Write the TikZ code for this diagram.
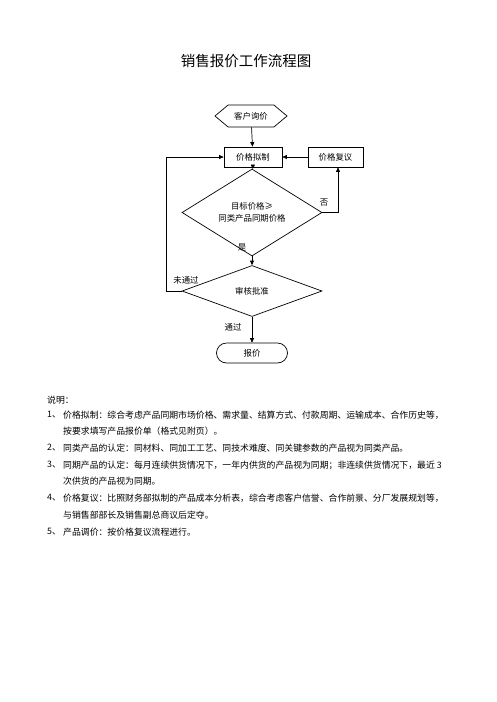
\documentclass[tikz,border=0pt]{standalone}
\usepackage{fontspec}
\setmainfont{Noto Sans CJK SC}
\usetikzlibrary{shapes.geometric,shapes.symbols,arrows.meta}
\tikzset{
  flow/.style={draw=black, line width=0.7pt, font=\fontsize{8.4}{10}\selectfont, inner sep=0pt},
  procbox/.style={flow, rectangle, minimum width=58pt, minimum height=20pt},
  hexbox/.style={flow, signal, signal to=west and east, signal pointer angle=80, minimum width=72pt, minimum height=22pt},
  decide/.style={flow, diamond, minimum width=140pt, minimum height=51pt},
  termbox/.style={flow, rectangle, rounded corners=10pt, minimum width=71pt, minimum height=20pt},
  conn/.style={draw=black, line width=0.7pt, -{Triangle[length=4.5pt,width=4pt]}},
  lbl/.style={font=\fontsize{8.4}{10}\selectfont, inner sep=0pt},
  note/.style={font=\fontsize{8.85}{10}\selectfont, inner sep=0pt, anchor=west},
}
\begin{document}
\begin{tikzpicture}[x=1pt,y=-1pt]
\useasboundingbox[fill=white] (0,0) rectangle (496,702);
\node[inner sep=0pt, font=\fontsize{14.5}{16}\selectfont] (title) at (246,61) {销售报价工作流程图};

\node[hexbox] (ask) at (251,116) {客户询价};
\node[procbox] (draft) at (253,157) {价格拟制};
\node[procbox, minimum width=55pt] (review) at (335.5,157) {价格复议};
\node[decide, align=center] (cmp) at (252,212.5) {目标价格≥\\[2pt]同类产品同期价格};
\node[decide] (approve) at (252,291) {审核批准};
\node[termbox] (quote) at (252,353) {报价};

\coordinate (loopb) at (166,291);
\coordinate (loopt) at (166,157);
\coordinate (noc) at (338,212.5);

\draw[conn] (ask) -- (draft);
\draw[conn] (draft) -- (cmp);
\draw[conn] (cmp.east) -- (noc) -- (review.south -| noc);
\draw[conn] (review) -- (draft);
\draw[conn] (cmp) -- (approve);
\draw[conn] (approve.west) -- (loopb) -- (loopt) -- (draft.west);
\draw[conn] (approve) -- (quote);

\node[lbl] (no) at (324,203) {否};
\node[lbl] (yes) at (242,247) {是};
\node[lbl] (fail) at (186,280) {未通过};
\node[lbl] (pass) at (233,327) {通过};

\node[note] (n0) at (47,400) {说明：};
\node[note] (k1) at (47,415) {1、};
\node[note] (t1) at (63,415) {价格拟制：综合考虑产品同期市场价格、需求量、结算方式、付款周期、运输成本、合作历史等，};
\node[note] (t1b) at (63,431) {按要求填写产品报价单（格式见附页）。};
\node[note] (k2) at (47,448) {2、};
\node[note] (t2) at (63,448) {同类产品的认定：同材料、同加工工艺、同技术难度、同关键参数的产品视为同类产品。};
\node[note] (k3) at (47,465) {3、};
\node[note] (t3) at (63,465) {同期产品的认定：每月连续供货情况下，一年内供货的产品视为同期；非连续供货情况下，最近 3};
\node[note] (t3b) at (63,481) {次供货的产品视为同期。};
\node[note] (k4) at (47,498) {4、};
\node[note] (t4) at (63,498) {价格复议：比照财务部拟制的产品成本分析表，综合考虑客户信誉、合作前景、分厂发展规划等，};
\node[note] (t4b) at (63,515) {与销售部部长及销售副总商议后定夺。};
\node[note] (k5) at (47,532) {5、};
\node[note] (t5) at (63,532) {产品调价：按价格复议流程进行。};
\end{tikzpicture}
\end{document}
